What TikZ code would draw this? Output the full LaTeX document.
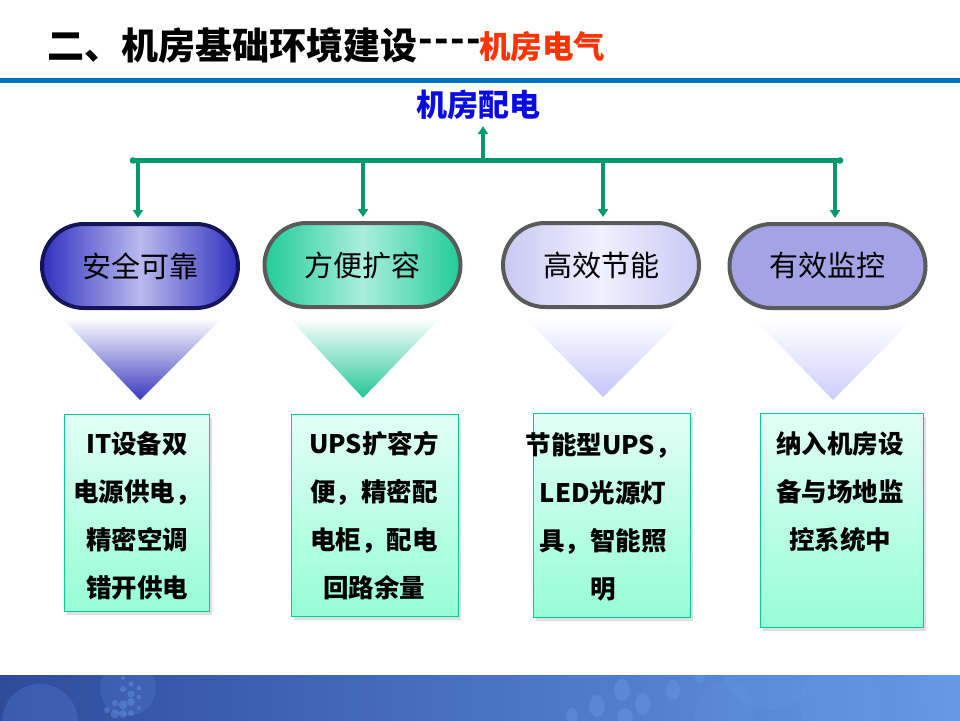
\documentclass[tikz,border=0pt]{standalone}
\usepackage{fontspec}
\newfontfamily\cjk{Noto Sans CJK SC}
\usetikzlibrary{arrows.meta,shapes.misc,shadows}
\definecolor{arrowgreen}{HTML}{00996E}
\definecolor{titlered}{HTML}{FF3300}
\definecolor{lineblue}{HTML}{0070C0}
\definecolor{labelblue}{HTML}{0A0AE6}
\definecolor{boxedge}{HTML}{00CC99}
\definecolor{boxtop}{HTML}{E2FFF5}
\definecolor{boxbot}{HTML}{96FDD8}
\definecolor{pillgray}{HTML}{5A5A5A}
\definecolor{pillnavy}{HTML}{14145A}
\definecolor{bandL}{HTML}{2F4C9B}
\definecolor{bandR}{HTML}{6399E5}
\definecolor{dotblue}{HTML}{6FA3F0}
\begin{document}
\begin{tikzpicture}[x=1pt,y=-1pt,font=\cjk,
  pill/.style={rounded rectangle, minimum width=196pt, minimum height=84pt,
    line width=4pt, inner sep=0pt, font=\cjk\fontsize{29}{30}\selectfont},
  infobox/.style={draw=boxedge, line width=1.2pt, top color=boxtop, bottom color=boxbot,
    drop shadow={opacity=0.25, shadow xshift=2pt, shadow yshift=-3pt}, inner sep=0pt},
  infotext/.style={align=center, font=\cjk\bfseries\fontsize{25.5}{48}\selectfont},
  conn/.style={draw=arrowgreen, line width=3.5pt, -{Triangle[length=8pt,width=10pt]}},
  bar/.style={draw=arrowgreen, line width=4.5pt, line cap=round},
  deco/.style={fill=dotblue, opacity=0.35}]
\useasboundingbox (0,0) rectangle (960,720);

% title
\node[anchor=west, inner sep=0pt, font=\cjk\bfseries\fontsize{37}{40}\selectfont] (title) at (47,46) {二、机房基础环境建设};
\node[anchor=west, inner sep=0pt, font=\cjk\bfseries\fontsize{38}{40}\selectfont] (dashes) at ([xshift=1pt]title.east) {-\kern1.5pt-\kern1.5pt-\kern1.5pt-};
\node[anchor=west, inner sep=0pt, font=\cjk\bfseries\fontsize{31.5}{36}\selectfont, text=titlered] (titlered) at (479,47) {机房电气};
\fill[lineblue] (0,78) rectangle (960,83);

% top label
\node[font=\cjk\bfseries\fontsize{31}{32}\selectfont, text=labelblue, inner sep=2pt] (top) at (478,105) {机房配电};

% bar
\coordinate (barL) at (133,160.5);
\coordinate (barR) at (840,160.5);
\coordinate (barM) at (483,160.5);
\coordinate (a1) at (138,160.5);
\coordinate (a2) at (363,160.5);
\coordinate (a3) at (603,160.5);
\coordinate (a4) at (835,160.5);
\draw[bar] (barL) -- (barR);
\fill[arrowgreen] (barL) circle (3.3pt) (barR) circle (3.3pt);

% pills
\node[pill, draw=pillnavy, left color={rgb,255:red,48;green,48;blue,192},
  right color={rgb,255:red,48;green,48;blue,192}, middle color={rgb,255:red,186;green,186;blue,238}] (p1) at (140,266) {安全可靠};
\node[pill, draw=pillgray, left color={rgb,255:red,32;green,204;blue,153},
  right color={rgb,255:red,32;green,204;blue,153}, middle color={rgb,255:red,170;green,238;blue,220}] (p2) at (362.5,265) {方便扩容};
\node[pill, draw=pillgray, left color={rgb,255:red,200;green,200;blue,244},
  right color={rgb,255:red,200;green,200;blue,244}, middle color={rgb,255:red,240;green,240;blue,255}] (p3) at (601,265) {高效节能};
\node[pill, draw=pillgray, fill={rgb,255:red,163;green,163;blue,230}] (p4) at (827.5,266) {有效监控};

% connectors
\draw[conn, shorten >=4pt] (barM) -- (barM |- top.south);
\draw[conn, shorten >=4pt] (a1) -- (a1 |- p1.north);
\draw[conn, shorten >=4pt] (a2) -- (a2 |- p2.north);
\draw[conn, shorten >=4pt] (a3) -- (a3 |- p3.north);
\draw[conn, shorten >=4pt] (a4) -- (a4 |- p4.north);

% funnels
\shade[top color=white, bottom color={rgb,255:red,56;green,56;blue,192}] (62,318) -- (222,318) -- (140,400) -- cycle;
\shade[top color=white, bottom color={rgb,255:red,34;green,199;blue,149}] (289,318) -- (440,318) -- (363,398) -- cycle;
\shade[top color=white, bottom color={rgb,255:red,196;green,196;blue,250}] (525,318) -- (682,318) -- (603,397) -- cycle;
\shade[top color=white, bottom color={rgb,255:red,205;green,205;blue,251}] (755,320) -- (912,320) -- (833,400) -- cycle;

% boxes
\node[infobox, minimum width=145pt, minimum height=197pt, anchor=north west] (b1) at (64,414) {};
\node[infobox, minimum width=167pt, minimum height=202pt, anchor=north west] (b2) at (291,414) {};
\node[infobox, minimum width=157pt, minimum height=204pt, anchor=north west] (b3) at (533,413) {};
\node[infobox, minimum width=163pt, minimum height=214pt, anchor=north west] (b4) at (760,413) {};

\node[infotext] (t1) at (137,515.5) {IT设备双\\电源供电，\\精密空调\\错开供电};
\node[infotext] (t2) at (374,515.5) {UPS扩容方\\便，精密配\\电柜，配电\\回路余量};
\node[infotext] (t3) at (603,517) {节能型UPS，\\LED光源灯\\具，智能照\\明};
\node[infotext] (t4) at (840,492) {纳入机房设\\备与场地监\\控系统中};

% bottom band
\shade[left color=bandL, right color=bandR] (0,675) rectangle (960,720);
\begin{scope}
\clip (0,675) rectangle (960,720);
\fill[deco, opacity=0.18] (40,722) circle (38);
\fill[deco, opacity=0.15] (128,688) circle (28);
\foreach \x/\y/\r in {123/678/2, 131/684/2.5, 139/688/2.5, 123/689/3, 131/694/3.5, 139/697/2.5,
  115/703/3, 123/705/4.5, 131/702/4, 107/710/3, 115/714/4.5, 123/714/4, 131/713/3, 139/708/2}
  \fill[deco] (\x,\y) circle (\r);
\foreach \x/\y/\rx/\ry in {597/706/8/11, 622/690/8/11, 643/704/8/11, 625/717/8/9, 572/716/6/8, 673/690/7/10, 700/678/5/5}
  \fill[deco, opacity=0.3] (\x,\y) ellipse (\rx pt and \ry pt);
\fill[deco, opacity=0.15] (770,660) circle (50);
\fill[deco, opacity=0.15] (840,705) ellipse (40pt and 40pt);
\fill[deco, opacity=0.12] (725,720) ellipse (30pt and 40pt);
\fill[deco, opacity=0.15] (960,690) circle (40);
\end{scope}
\end{tikzpicture}
\end{document}
